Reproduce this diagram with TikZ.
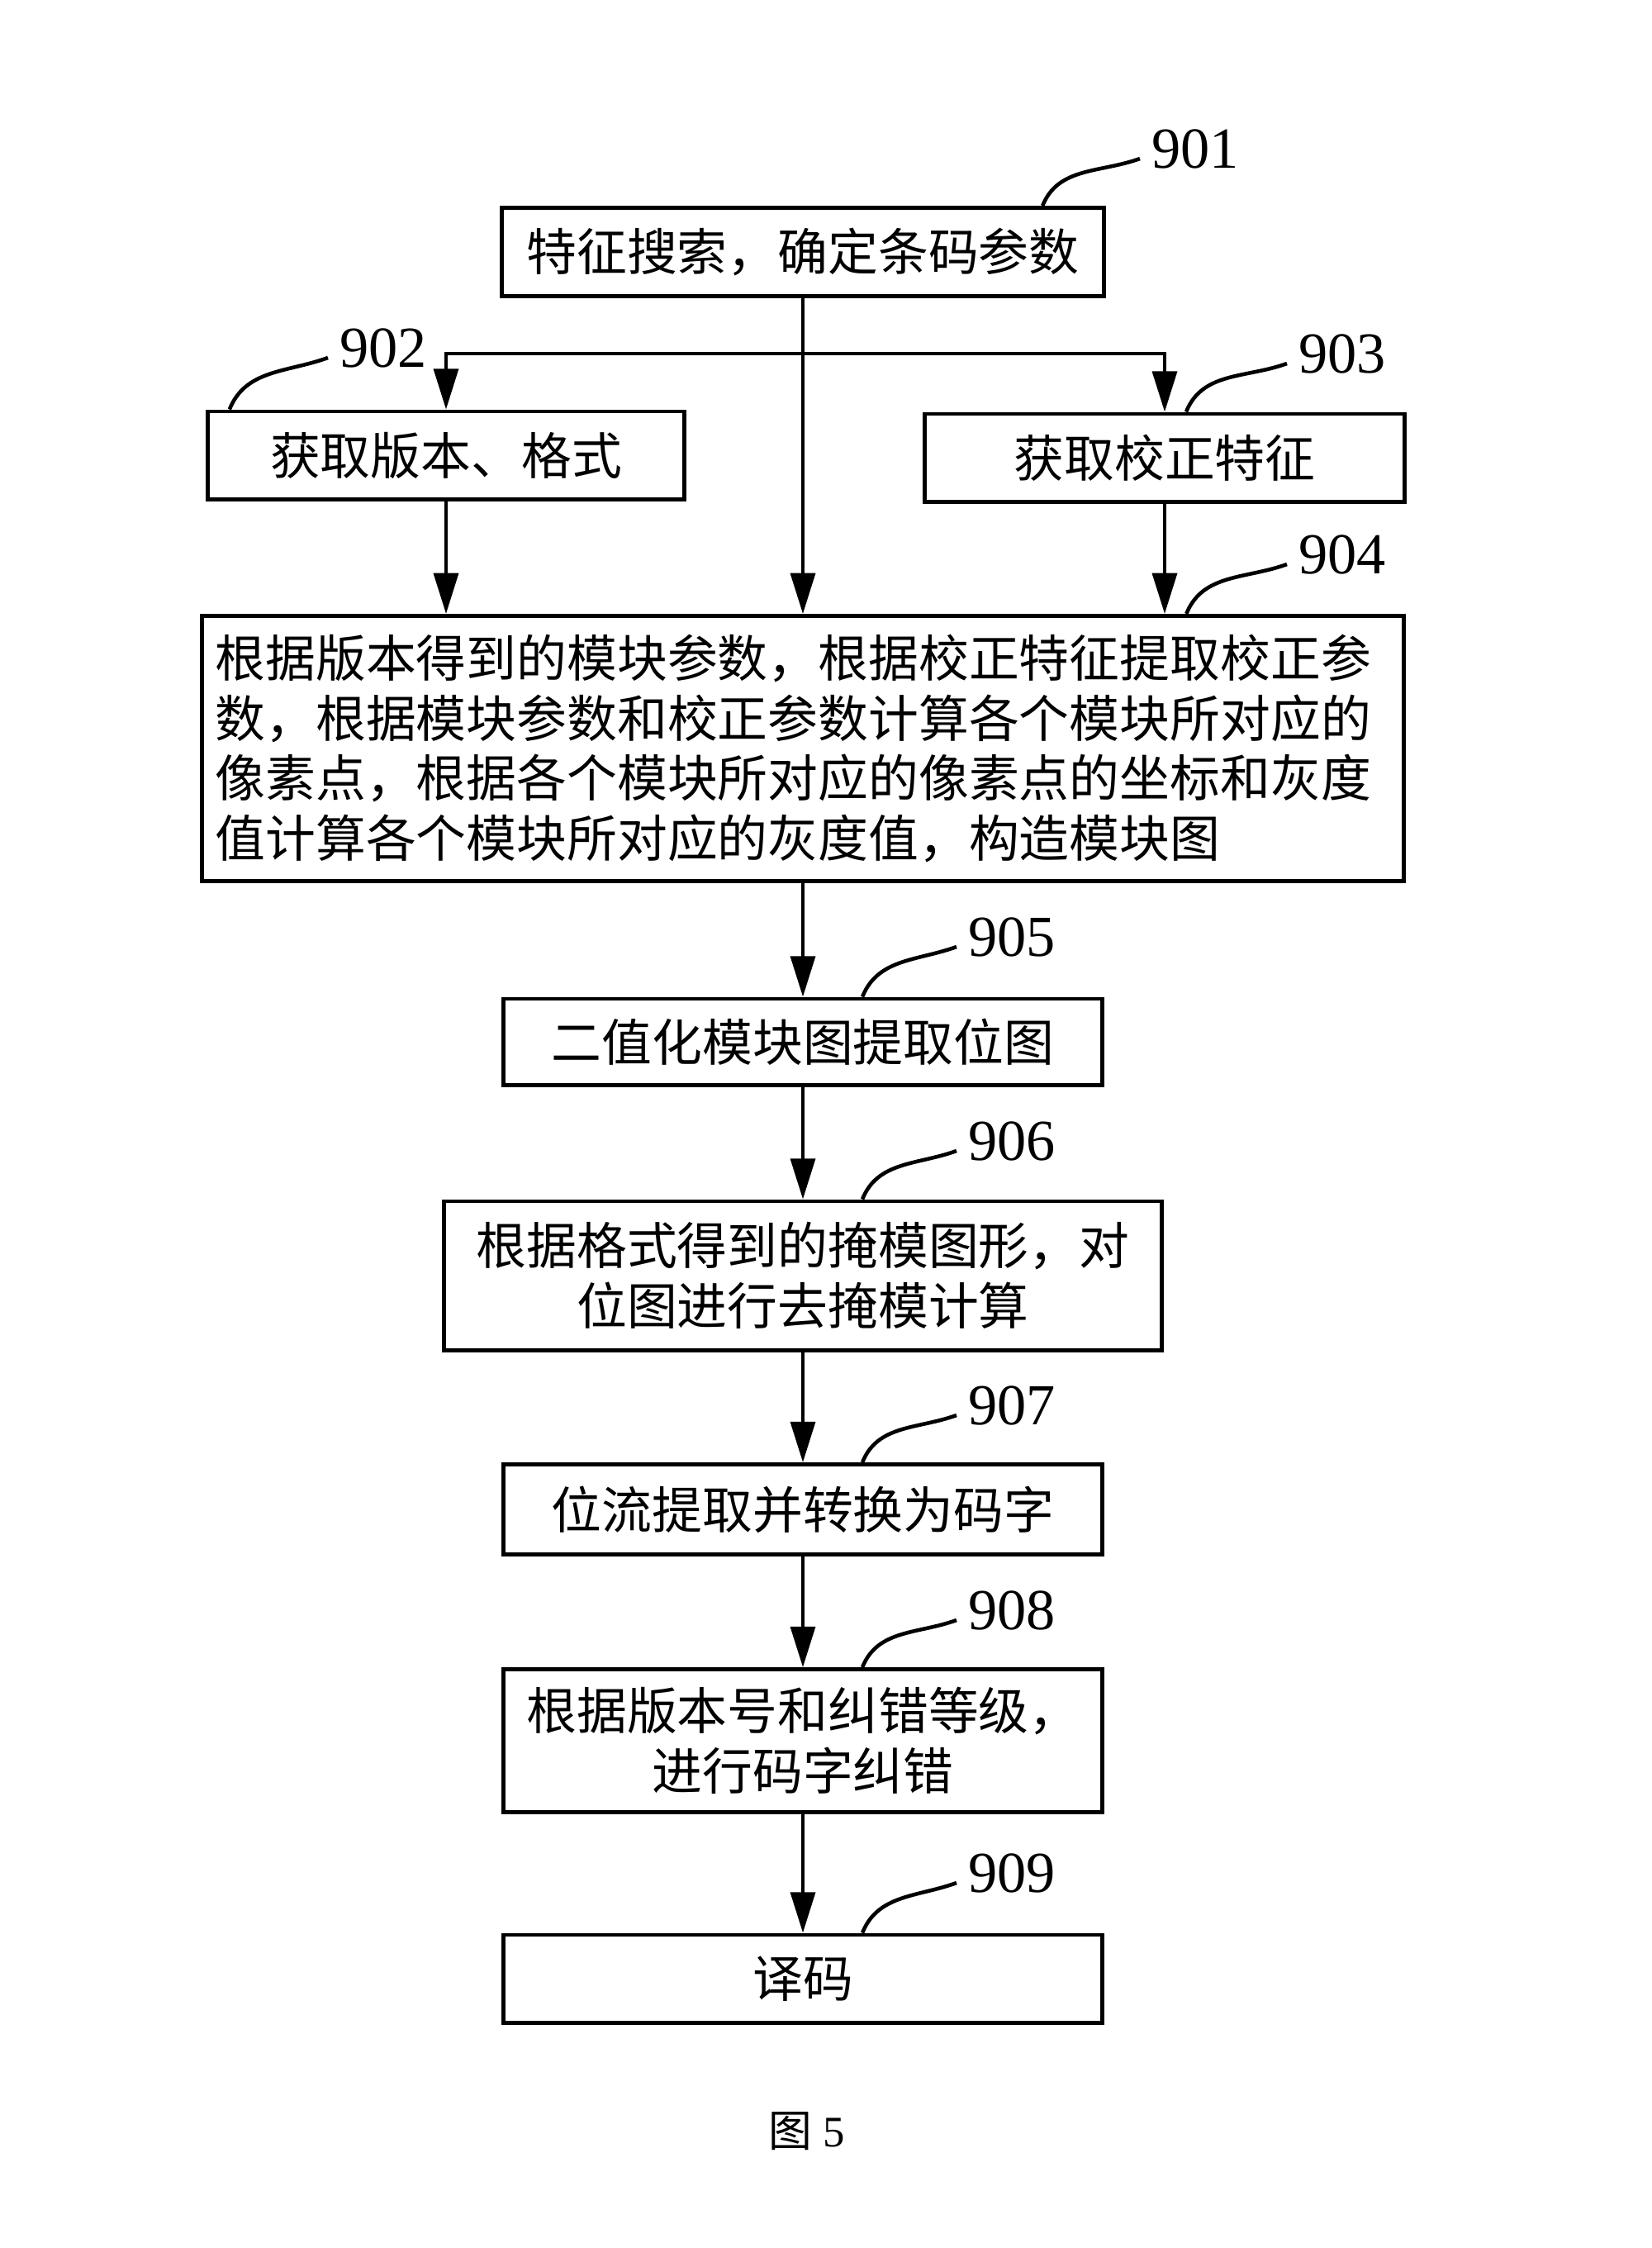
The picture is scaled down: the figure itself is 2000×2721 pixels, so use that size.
\documentclass[tikz,border=0pt]{standalone}
\usepackage{fontspec}
\setmainfont{Liberation Serif}
\newfontfamily\cjk{Noto Sans CJK SC}
\usepackage{tikz}
\usetikzlibrary{arrows.meta}
\usetikzlibrary{positioning}
\tikzstyle{block} = [draw, rectangle, line width=1.4pt, inner sep=0pt,
    font=\cjk\fontsize{17.3}{20.6}\selectfont, align=center,
    minimum width=7.25cm, minimum height=1.06cm]
\tikzstyle{arrow} = [line width=1.1pt, -{Triangle[length=14pt,width=8.5pt]}]
\tikzstyle{num} = [font=\fontsize{20}{20}\selectfont, inner sep=1pt, anchor=west]
\tikzstyle{leader} = [line width=1.3pt, out=68, in=200]

\begin{document}
\begin{tikzpicture}[x=0.01cm, y=-0.01cm]
            \useasboundingbox (0,0) rectangle (2000,2721);
            \node [block, minimum width=7.28cm, minimum height=1.07cm] (s901) at (972,305)
            {特征搜索，确定条码参数};
            \node [block, minimum width=5.77cm] (s902) at (540,551)
            {获取版本、格式};
            \node [block, minimum width=5.81cm] (s903) at (1410,554)
            {获取校正特征};
            \node [block, minimum width=14.54cm, minimum height=3.21cm,
                   text width=14.22cm, align=left] (s904) at (972,906)
            {根据版本得到的模块参数，根据校正特征提取校正参\\
             数，根据模块参数和校正参数计算各个模块所对应的\\
             像素点，根据各个模块所对应的像素点的坐标和灰度\\
             值计算各个模块所对应的灰度值，构造模块图};
            \node [block, minimum height=1.04cm] (s905) at (972,1261)
            {二值化模块图提取位图};
            \node [block, minimum width=8.69cm, minimum height=1.80cm] (s906) at (972,1544)
            {根据格式得到的掩模图形，对\\位图进行去掩模计算};
            \node [block, minimum height=1.09cm] (s907) at (972,1827)
            {位流提取并转换为码字};
            \node [block, minimum height=1.73cm] (s908) at (972,2107)
            {根据版本号和纠错等级，\\进行码字纠错};
            \node [block] (s909) at (972,2395)
            {译码};
            \coordinate (fork) at (972,428);
            \draw [arrow] (s901) -- (s904);
            \draw [arrow] (fork) -| (s902);
            \draw [arrow] (fork) -| (s903);
            \draw [arrow] (s902) -- (s902 |- s904.north);
            \draw [arrow] (s903) -- (s903 |- s904.north);
            \draw [arrow] (s904) -- (s905);
            \draw [arrow] (s905) -- (s906);
            \draw [arrow] (s906) -- (s907);
            \draw [arrow] (s907) -- (s908);
            \draw [arrow] (s908) -- (s909);
            % step numbers
            \node [num] (l901) at (1390,180) {901};
            \node [num] (l902) at (407,421) {902};
            \node [num] (l903) at (1568,428) {903};
            \node [num] (l904) at (1568,671) {904};
            \node [num] (l905) at (1168,1134) {905};
            \node [num] (l906) at (1168,1381) {906};
            \node [num] (l907) at (1168,1701) {907};
            \node [num] (l908) at (1168,1949) {908};
            \node [num] (l909) at (1168,2267) {909};
            \draw [leader] ([xshift=2.9cm]s901.north) to ([xshift=-1mm,yshift=-1.2mm]l901.west);
            \draw [leader] ([xshift=-2.62cm]s902.north) to ([xshift=-1mm,yshift=-1.2mm]l902.west);
            \draw [leader] ([xshift=0.26cm]s903.north) to ([xshift=-1mm,yshift=-1.2mm]l903.west);
            \draw [leader] ([xshift=4.64cm]s904.north) to ([xshift=-1mm,yshift=-1.2mm]l904.west);
            \draw [leader] ([xshift=0.72cm]s905.north) to ([xshift=-1mm,yshift=-1.2mm]l905.west);
            \draw [leader] ([xshift=0.72cm]s906.north) to ([xshift=-1mm,yshift=-1.2mm]l906.west);
            \draw [leader] ([xshift=0.72cm]s907.north) to ([xshift=-1mm,yshift=-1.2mm]l907.west);
            \draw [leader] ([xshift=0.72cm]s908.north) to ([xshift=-1mm,yshift=-1.2mm]l908.west);
            \draw [leader] ([xshift=0.72cm]s909.north) to ([xshift=-1mm,yshift=-1.2mm]l909.west);
            \node [font=\fontsize{15}{15}\selectfont] (cap) at (977,2580)
            {{\cjk 图}\ 5};
        \end{tikzpicture}
\end{document}
